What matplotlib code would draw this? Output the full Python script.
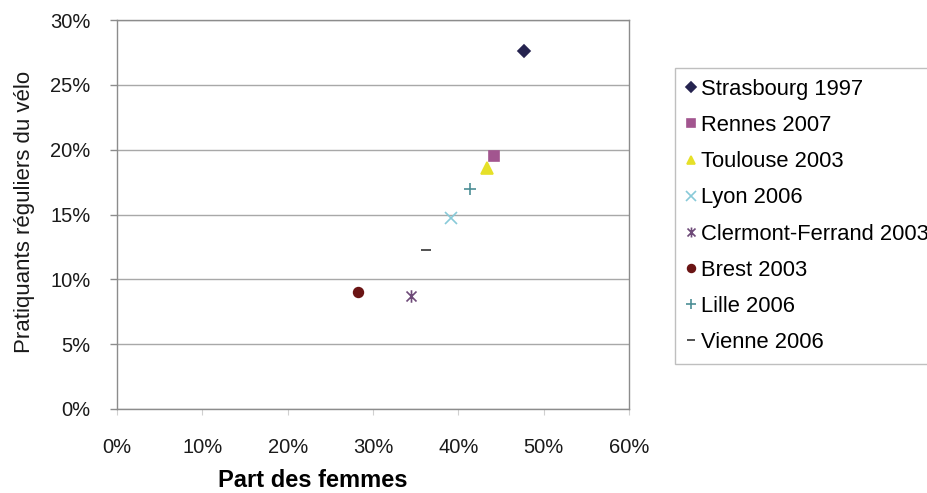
import matplotlib
matplotlib.use('Agg')
from matplotlib import pyplot
from matplotlib.path import Path
from matplotlib.ticker import PercentFormatter

pyplot.rcParams['font.family'] = ['Liberation Sans', 'DejaVu Sans']

# cities, share of women among cyclists, share of regular cyclists (%)
villes = ['Strasbourg 1997', 'Rennes 2007', 'Toulouse 2003', 'Lyon 2006',
          'Clermont-Ferrand 2003', 'Brest 2003', 'Lille 2006', 'Vienne 2006']
femmes = [47.7, 44.2, 43.4, 39.2, 34.4, 28.2, 41.4, 36.2]
velo = [27.6, 19.5, 18.6, 14.7, 8.7, 9.0, 17.0, 12.3]

# excel "star" marker: a cross with a vertical bar through it
star = Path([(-1, -1), (1, 1), (-1, 1), (1, -1), (0, -1.25), (0, 1.25)],
            [Path.MOVETO, Path.LINETO, Path.MOVETO, Path.LINETO, Path.MOVETO, Path.LINETO])

markers = ['D', 's', '^', 'x', star, 'o', '+', '_']
colors = ['#25234f', '#a2558f', '#e6e028', '#88cad8', '#6e4a78', '#6a1414', '#4d8f96', '#333333']
sizes = [6, 7, 8, 9, 9, 7, 9, 7]

fig = pyplot.figure(figsize=(9.27, 4.93), dpi=100)
ax = fig.add_axes([0.1262, 0.1704, 0.5523, 0.789])

for v, x, y, m, c, s in zip(villes, femmes, velo, markers, colors, sizes):
    ax.plot([x], [y], linestyle='none', marker=m, color=c, markersize=s,
            markeredgewidth=1.2, label=v)

ax.set_xlim(0, 60)
ax.set_ylim(0, 30)
ax.set_xticks(range(0, 61, 10))
ax.set_yticks(range(0, 31, 5))
ax.xaxis.set_major_formatter(PercentFormatter(decimals=0))
ax.yaxis.set_major_formatter(PercentFormatter(decimals=0))
ax.yaxis.grid(True, color='#a8a8a8', linewidth=1.0)
ax.set_axisbelow(True)
for sp in ax.spines.values():
    sp.set_color('#8c8c8c')
    sp.set_linewidth(1.0)
ax.tick_params(axis='y', length=5, width=1, color='#8c8c8c', pad=14,
               labelsize=14.5, labelcolor='#1a1a1a')
ax.tick_params(axis='x', length=4, width=0.8, color='#d0d0d0', pad=17,
               labelsize=14.5, labelcolor='#1a1a1a')

ax.set_xlabel('Part des femmes', fontsize=17, fontweight='bold')
ax.xaxis.set_label_coords(0.383, -0.155)
ax.set_ylabel('Pratiquants réguliers du vélo', fontsize=16, color='#1a1a1a')
ax.yaxis.set_label_coords(-0.16, 0.506)

# legend sits right of the plot and runs off the figure edge
leg = fig.legend(loc='upper left', bbox_to_anchor=(0.728, 0.862),
                 borderaxespad=0, fontsize=15.8, handlelength=0.5,
                 handletextpad=0.2, labelspacing=0.69, borderpad=0.5,
                 fancybox=False, frameon=True, markerscale=0.8)
leg.get_frame().set_edgecolor('#b0b0b0')
leg.get_frame().set_linewidth(1.0)

pyplot.savefig('out.png', dpi=100)
